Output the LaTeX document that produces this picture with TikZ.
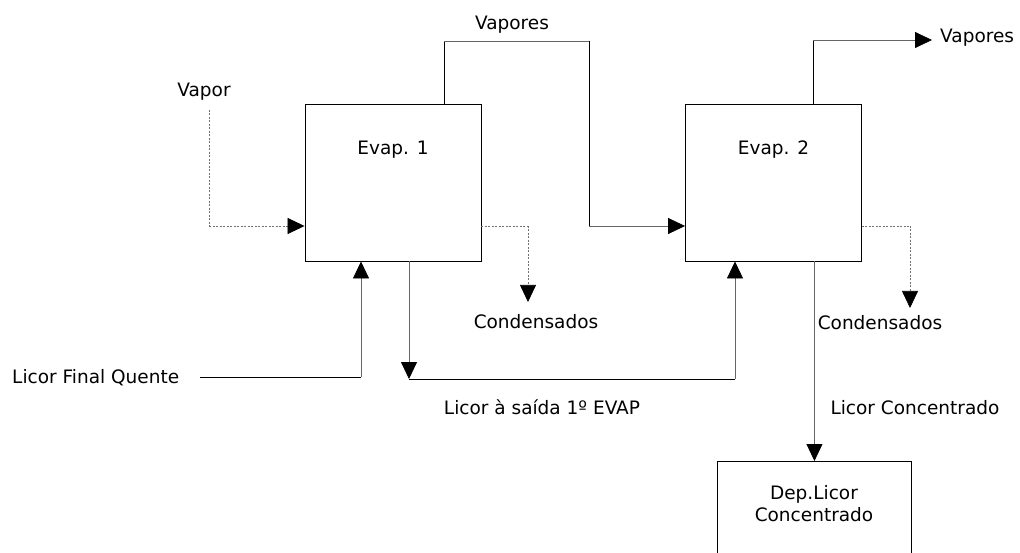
\documentclass[tikz,border=0pt]{standalone}
\usepackage{fontspec}
\setmainfont{DejaVu Sans}
\usetikzlibrary{arrows.meta}
\begin{document}
\begin{tikzpicture}[x=1pt,y=-1pt,
  every node/.style={font=\fontsize{18.5}{22}\selectfont, inner sep=0pt},
  unit/.style={draw=black, line width=0.9pt, minimum width=176pt, minimum height=157pt},
  flow/.style={draw=black!60, line width=0.8pt},
  rise/.style={draw=black, line width=0.8pt},
  cond/.style={draw=black!55, line width=0.7pt, dash pattern=on 2pt off 1.5pt},
  tip/.style={-{Triangle[length=17pt,width=16pt,color=black,fill=black]}},
  lbl/.style={anchor=center}]
\useasboundingbox[fill=white] (0,0) rectangle (1020,553);

% evaporators and storage tank
\node[unit] (ev1) at (393,182.5) {};
\node[unit] (ev2) at (773.5,182.5) {};
\node[draw=black, line width=0.9pt, minimum width=194pt, minimum height=110pt, anchor=north west] (dep) at (717,461) {};

\node[lbl] (ev1t) at (393,150) {Evap. 1};
\node[lbl] (ev2t) at (773.5,150) {Evap. 2};
\node[lbl, align=center] (dept) at (814,504) {Dep.Licor\\Concentrado};

% stream labels
\node[lbl] (vapor) at (204,92) {Vapor};
\node[lbl] (vap1) at (512,25) {Vapores};
\node[lbl, anchor=west] (vap2) at (940,38) {Vapores};
\node[lbl] (cond1) at (536,322) {Condensados};
\node[lbl] (cond2) at (880,323) {Condensados};
\node[lbl, anchor=west] (lfq) at (12,378) {Licor Final Quente};
\node[lbl] (lsai) at (542,407) {Licor à saída 1º EVAP};
\node[lbl] (lcon) at (915,408) {Licor Concentrado};

% turning points of the streams
\coordinate (c1) at (209,110);
\coordinate (c2) at (209,226);
\coordinate (c3) at (444,41);
\coordinate (c4) at (589,41);
\coordinate (c5) at (589,226);
\coordinate (c6) at (813,40);
\coordinate (c7) at (932,40);
\coordinate (c8) at (528,226);
\coordinate (c9) at (528,302);
\coordinate (c10) at (910,226);
\coordinate (c11) at (910,308);
\coordinate (c12) at (200,377);
\coordinate (c13) at (361,377);
\coordinate (c14) at (409,379);
\coordinate (c15) at (735,379);

% live steam into the first effect
\draw[cond] (c1) -- (c2);
\draw[cond, tip] (c2) -- (ev1.west |- c2);

% vapours from effect 1 heat effect 2
\draw[rise] (ev1.north -| c3) -- (c3);
\draw[flow] (c3) -- (c4);
\draw[rise] (c4) -- (c5);
\draw[flow, tip] (c5) -- (ev2.west |- c5);

% vapours leaving effect 2
\draw[rise] (ev2.north -| c6) -- (c6);
\draw[flow, tip] (c6) -- (c7);

% condensates
\draw[cond] (ev1.east |- c8) -- (c8);
\draw[cond, tip] (c8) -- (c9);
\draw[cond] (ev2.east |- c10) -- (c10);
\draw[cond, tip] (c10) -- (c11);

% hot liquor feed
\draw[rise] (c12) -- (c13);
\draw[flow, tip] (c13) -- (ev1.south -| c13);

% liquor from effect 1 to effect 2
\draw[flow, tip] (ev1.south -| c14) -- (c14);
\draw[rise] (c14) -- (c15);
\draw[flow, tip] (c15) -- (ev2.south -| c15);

% concentrated liquor to storage
\draw[flow, tip] (ev2.south -| dep.north) -- (dep.north);
\end{tikzpicture}
\end{document}
